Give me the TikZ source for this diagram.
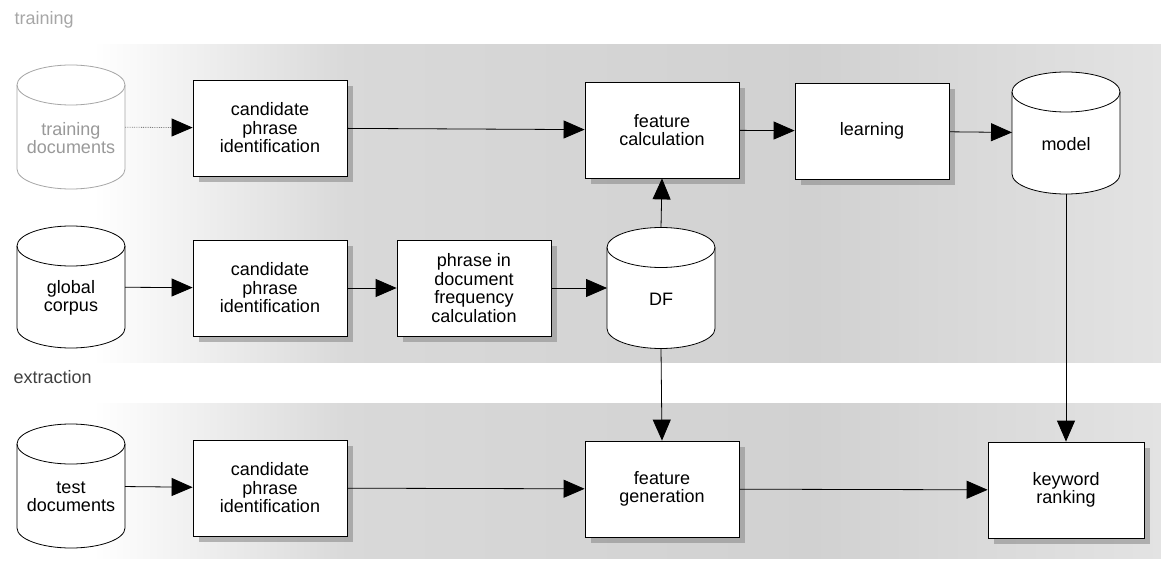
\documentclass[tikz,border=0pt]{standalone}
\usepackage{fontspec}
\setmainfont{Liberation Sans}
\usepackage{xcolor}
\usepackage{tikz}
\usetikzlibrary{arrows.meta, shadows}

\pgfdeclarehorizontalshading{bandshade}{100bp}{color(0bp)=(white); color(25bp)=(white); color(29bp)=(white); color(40bp)=(gray!30); color(60bp)=(gray!36); color(75bp)=(gray!22); color(100bp)=(gray!22)}

\tikzset{
    stage/.style={draw, fill=white, line width=0.8pt, minimum width=154pt, minimum height=96pt, align=center,
        drop shadow={shadow xshift=6pt, shadow yshift=-6pt, fill=gray!90, opacity=0.6}},
    store/.style={minimum width=110pt, minimum height=126pt, inner sep=0pt, outer sep=-1pt,
        path picture={
            \draw[fill=white, line width=0.8pt, draw=#1]
                ([shift={(1pt,-21pt)}]path picture bounding box.north west)
                -- ([shift={(1pt,21pt)}]path picture bounding box.south west)
                arc[start angle=180, end angle=360, x radius=54pt, y radius=20pt]
                -- ([shift={(-1pt,-21pt)}]path picture bounding box.north east)
                arc[start angle=0, end angle=180, x radius=54pt, y radius=20pt] -- cycle;
            \draw[line width=0.8pt, draw=#1]
                ([shift={(1pt,-21pt)}]path picture bounding box.north west)
                arc[start angle=180, end angle=360, x radius=54pt, y radius=20pt];
        }},
    store/.default=black,
    dbtext/.style 2 args={label={[align=center, yshift=-11pt, text=#2]center:#1}},
    flow/.style={-{Triangle[length=21pt, width=18pt, color=black]}, line width=0.8pt},
    tag/.style={anchor=west}
}

\begin{document}
\begin{tikzpicture}[x=1pt, y=-1pt, every node/.style={font=\fontsize{18}{18.5}\selectfont}]
        \useasboundingbox (0,0) rectangle (1161,561);
        \shade[shading=bandshade] (0,45) rectangle (1161,362);
        \shade[shading=bandshade] (0,403) rectangle (1161,558);

        \node[tag, text=gray!70] (lbltrain) at (11,20) {training};
        \node[tag, text=black!75] (lblextract) at (10,377) {extraction};

        \node[store=gray!70, dbtext={training\\documents}{gray!80}] (trdocs) at (71,127) {};
        \node[stage] (cand1) at (270,128) {candidate\\phrase\\identification};
        \node[stage] (featcalc) at (662,130) {feature\\calculation};
        \node[stage] (learn) at (872,131) {learning};
        \node[store, minimum height=124pt, dbtext={model}{black}] (model) at (1066,133) {};

        \node[store, minimum height=124pt, dbtext={global\\corpus}{black}] (corpus) at (71,287) {};
        \node[stage] (cand2) at (270,288) {candidate\\phrase\\identification};
        \node[stage] (pidf) at (474,288) {phrase in\\document\\frequency\\calculation};
        \node[store, minimum height=123pt, dbtext={DF}{black}] (df) at (661,288) {};

        \node[store, dbtext={test\\documents}{black}] (test) at (71,486) {};
        \node[stage] (cand3) at (270,488) {candidate\\phrase\\identification};
        \node[stage] (featgen) at (662,489) {feature\\generation};
        \node[stage, minimum width=156pt] (rank) at (1066,490) {keyword\\ranking};

        \draw[flow, gray, densely dotted] (trdocs) -- (cand1);
        \draw[flow] (cand1) -- (featcalc);
        \draw[flow] (featcalc) -- (learn);
        \draw[flow] (learn) -- (model);
        \draw[flow] (corpus) -- (cand2);
        \draw[flow] (cand2) -- (pidf);
        \draw[flow] (pidf) -- (df);
        \draw[flow] (df.north) -- (featcalc.south);
        \draw[flow] (df.south) -- (featgen.north);
        \draw[flow] (model.south) -- (rank.north);
        \draw[flow] (test) -- (cand3);
        \draw[flow] (cand3) -- (featgen);
        \draw[flow] (featgen) -- (rank);
    \end{tikzpicture}
\end{document}
